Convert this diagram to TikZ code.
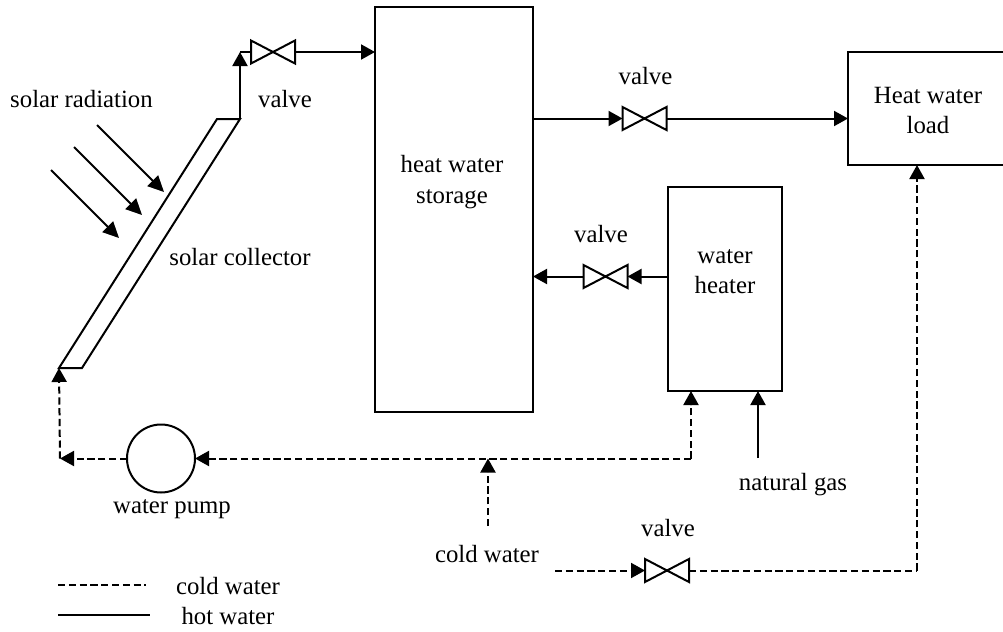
\documentclass[tikz,border=0pt]{standalone}
\usepackage{fontspec}
\setmainfont{Liberation Serif}
\usetikzlibrary{arrows.meta}
\tikzset{
 x=0.5pt,y=-0.5pt,
 every node/.style={font=\fontsize{12.4pt}{15pt}\selectfont,inner sep=0pt,outer sep=0pt},
 box/.style={draw,line width=1pt,rectangle,anchor=north west},
 valve/.style={rectangle,minimum width=22pt,minimum height=11.5pt},
 lbl/.style={anchor=base},
 hot/.style={line width=1pt,-{Triangle[length=7pt,width=7.5pt]}},
 cold/.style={line width=1pt,dash pattern=on 3.6pt off 1.8pt,-{Triangle[length=7pt,width=7.5pt,sep=0pt]}},
 plain/.style={line width=1pt},
 plaincold/.style={line width=1pt,dash pattern=on 3.6pt off 1.8pt},
}
\newcommand{\valvetie}[1]{\draw[line width=1pt,line join=miter] (#1.south west) -- (#1.north west) -- (#1.south east) -- (#1.north east) -- cycle;}
\begin{document}
\begin{tikzpicture}
\useasboundingbox (0,0) rectangle (1003,632);
% boxes
\node[box,minimum width=79pt,minimum height=202.5pt] (storage) at (375,7) {};
\node[box,minimum width=57pt,minimum height=102pt] (heater) at (668,187) {};
\node[box,minimum width=82pt,minimum height=56.5pt] (load) at (848,52) {};
\node[draw,line width=1pt,circle,minimum size=34pt] (pump) at (161,458.5) {};
\draw[line width=1pt,line join=miter] (217,119) -- (240,119) -- (82,368) -- (59,368) -- cycle;
% valves
\node[valve] (v1) at (273,52) {}; \valvetie{v1}
\node[valve] (v2) at (644.5,118.5) {}; \valvetie{v2}
\node[valve] (v3) at (605.5,276.5) {}; \valvetie{v3}
\node[valve] (v4) at (667,570.5) {}; \valvetie{v4}
% coordinates
\coordinate (ctop) at (240,119);
\coordinate (cbot) at (59,368);
\coordinate (rise) at (240,52);
\coordinate (s1a) at (97,125);  \coordinate (s1b) at (164,192);
\coordinate (s2a) at (74,147);  \coordinate (s2b) at (142,215);
\coordinate (s3a) at (51,170);  \coordinate (s3b) at (119,238);
\coordinate (pl) at (60,458.5);
\coordinate (hc) at (691,458.5);
\coordinate (hi) at (691,391);
\coordinate (gi) at (758,391);
\coordinate (gs) at (758,458);
\coordinate (cw) at (488,458.5);
\coordinate (cws) at (488,526);
\coordinate (v4s) at (555,570.5);
\coordinate (lc) at (917,570.5);
\coordinate (li) at (917,165);
\coordinate (l1a) at (58,585); \coordinate (l1b) at (146,585);
\coordinate (l2a) at (58,615); \coordinate (l2b) at (150,615);
% hot lines
\draw[hot] (ctop) -- (rise);
\draw[plain] (rise) -- (v1.west);
\draw[hot] (v1.east) -- (storage.north west |- v1);
\draw[hot] (storage.north east |- v2) -- (v2.west);
\draw[hot] (v2.east) -- (load.west |- v2);
\draw[hot] (heater.west |- v3) -- (v3.east);
\draw[hot] (v3.west) -- (storage.north east |- v3);
\draw[hot] (gs) -- (gi);
\draw[line width=0.9pt,-{Triangle[length=8pt,width=7.5pt]}] (s1a) -- (s1b);
\draw[line width=0.9pt,-{Triangle[length=8pt,width=7.5pt]}] (s2a) -- (s2b);
\draw[line width=0.9pt,-{Triangle[length=8pt,width=7.5pt]}] (s3a) -- (s3b);
% cold lines
\draw[cold] (pump.west) -- (pl);
\draw[cold] (pl) -- (cbot);
\draw[cold] (hc) -- (pump.east);
\draw[cold] (hc) -- (hi);
\draw[cold] (cws) -- (cw);
\draw[cold] (v4s) -- (v4.west);
\draw[plaincold] (v4.east) -- (lc);
\draw[cold] (lc) -- (li);
% legend
\draw[line width=0.7pt,dash pattern=on 3.6pt off 1.8pt] (l1a) -- (l1b);
\draw[line width=1pt] (l2a) -- (l2b);
% labels
\node[lbl] (t1) at (81.5,107) {solar radiation};
\node[lbl] (t2) at (285,107) {valve};
\node[lbl] (t3) at (240,265) {solar collector};
\node[lbl] (t4) at (452,172) {heat water};
\node[lbl] (t5) at (452,203) {storage};
\node[lbl] (t6) at (645.5,84) {valve};
\node[lbl] (t7) at (601,242) {valve};
\node[lbl] (t8) at (725,263) {water};
\node[lbl] (t9) at (725,293) {heater};
\node[lbl] (t10) at (928,103) {Heat water};
\node[lbl] (t11) at (928,133) {load};
\node[lbl] (t12) at (172,513) {water pump};
\node[lbl] (t13) at (487,562) {cold water};
\node[lbl] (t14) at (793,490) {natural gas};
\node[lbl] (t15) at (668,536) {valve};
\node[lbl] (t16) at (228,594) {cold water};
\node[lbl] (t17) at (228,624) {hot water};
\end{tikzpicture}
\end{document}
